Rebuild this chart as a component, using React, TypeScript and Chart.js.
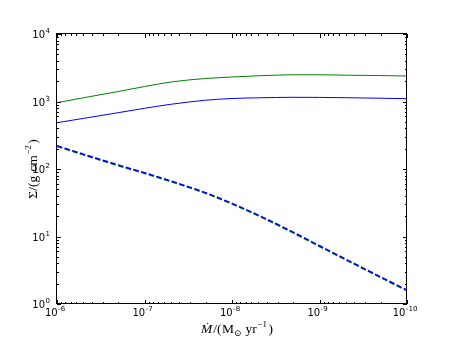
import React, { useEffect, useRef } from "react";
import { Chart, registerables } from "chart.js";

Chart.register(...registerables);

// Accretion rate (Msun/yr), x axis (log, reversed)
const mdot = [1e-6, 5e-7, 2e-7, 1e-7, 5e-8, 2e-8, 1e-8, 5e-9, 2e-9, 1e-9, 5e-10, 2e-10, 1e-10];
// Surface density (g cm^-2)
const sigmaGreen = [960, 1135, 1406, 1667, 1944, 2193, 2306, 2404, 2488, 2488, 2454, 2420, 2387];
const sigmaBlue = [485, 562, 683, 793, 909, 1045, 1107, 1134, 1154, 1150, 1138, 1119, 1100];
const sigmaGreenDashed = [216, 162, 112, 86, 65, 43.5, 30.3, 20.2, 11.3, 7.1, 4.5, 2.46, 1.57];
const sigmaBlueDashed = [221, 166, 115, 88, 66.5, 44.5, 31, 20.7, 11.6, 7.3, 4.6, 2.52, 1.61];

const xTickExponents = [-6, -7, -8, -9, -10];
const yTickExponents = [0, 1, 2, 3, 4];

const SANS = '"DejaVu Sans", "Bitstream Vera Sans", sans-serif';
const SERIF = '"Liberation Serif", "DejaVu Serif", serif';

type Piece = { t: string; font: string; dy?: number; gap?: number };

function drawPieces(ctx: CanvasRenderingContext2D, pieces: Piece[], cx: number, by: number) {
  let total = 0;
  const widths = pieces.map((p) => {
    ctx.font = p.font;
    const w = ctx.measureText(p.t).width + (p.gap || 0);
    total += w;
    return w;
  });
  let x = cx - total / 2;
  pieces.forEach((p, i) => {
    ctx.font = p.font;
    ctx.fillText(p.t, x, by + (p.dy || 0));
    x += widths[i];
  });
}

function drawPow(ctx: CanvasRenderingContext2D, exp: number, x: number, y: number, align: "center" | "right") {
  ctx.font = `10px ${SANS}`;
  const wb = ctx.measureText("10").width;
  ctx.font = `7px ${SANS}`;
  const es = String(exp);
  const we = ctx.measureText(es).width;
  const total = wb + we + 0.5;
  const x0 = align === "center" ? x - total / 2 : x - total;
  ctx.font = `10px ${SANS}`;
  ctx.fillText("10", x0, y);
  ctx.font = `7px ${SANS}`;
  ctx.fillText(es, x0 + wb + 0.5, y - 5);
}

const mplAxes = {
  id: "mplAxes",
  afterDraw(chart: any) {
    const ctx: CanvasRenderingContext2D = chart.ctx;
    const xs = chart.scales.x;
    const ys = chart.scales.y;
    const { left, right, top, bottom } = chart.chartArea;
    ctx.save();
    ctx.strokeStyle = "#000";
    ctx.lineWidth = 1;
    ctx.beginPath();
    for (let e = -10; e <= -6; e++) {
      for (let k = 1; k <= 9; k++) {
        if (e === -6 && k > 1) break;
        const px = Math.round(xs.getPixelForValue(k * Math.pow(10, e))) + 0.5;
        const len = k === 1 ? 4 : 2;
        ctx.moveTo(px, bottom);
        ctx.lineTo(px, bottom - len);
        ctx.moveTo(px, top);
        ctx.lineTo(px, top + len);
      }
    }
    for (let e = 0; e <= 4; e++) {
      for (let k = 1; k <= 9; k++) {
        if (e === 4 && k > 1) break;
        const py = Math.round(ys.getPixelForValue(k * Math.pow(10, e))) + 0.5;
        const len = k === 1 ? 4 : 2;
        ctx.moveTo(left, py);
        ctx.lineTo(left + len, py);
        ctx.moveTo(right, py);
        ctx.lineTo(right - len, py);
      }
    }
    ctx.stroke();
    ctx.strokeRect(Math.round(left) - 0.5, Math.round(top) - 0.5, Math.round(right - left), Math.round(bottom - top));

    ctx.fillStyle = "#000";
    ctx.textBaseline = "alphabetic";
    ctx.textAlign = "left";
    xTickExponents.forEach((e) => {
      const px = xs.getPixelForValue(Math.pow(10, e));
      drawPow(ctx, e, px - 2, bottom + 12, "center");
    });
    yTickExponents.forEach((e) => {
      const py = ys.getPixelForValue(Math.pow(10, e));
      drawPow(ctx, e, left - 7, py + 4, "right");
    });

    const big = `13.5px ${SERIF}`;
    const small = `9px ${SERIF}`;
    drawPieces(
      ctx,
      [
        { t: "Ṁ", font: `italic ${big}`, gap: 1 },
        { t: "/(", font: big, gap: 0.5 },
        { t: "M", font: big },
        { t: "⊙", font: small, dy: 3, gap: 4 },
        { t: "yr", font: big, gap: 0.5 },
        { t: "−1", font: small, dy: -6, gap: 1.5 },
        { t: ")", font: big },
      ],
      (left + right) / 2 + 5,
      333
    );

    ctx.save();
    ctx.translate(37, (top + bottom) / 2);
    ctx.rotate(-Math.PI / 2);
    drawPieces(
      ctx,
      [
        { t: "Σ/(g", font: big, gap: 4 },
        { t: "cm", font: big, gap: 0.5 },
        { t: "−2", font: small, dy: -6, gap: 1.5 },
        { t: ")", font: big },
      ],
      0,
      0
    );
    ctx.restore();
    ctx.restore();
  },
};

function pts(ys: number[]) {
  return mdot.map((x, i) => ({ x, y: ys[i] }));
}

export default function App() {
  const ref = useRef<HTMLCanvasElement | null>(null);
  useEffect(() => {
    if (!ref.current) return;
    const chart = new Chart(ref.current, {
      type: "line",
      data: {
        datasets: [
          {
            data: pts(sigmaBlueDashed),
            borderColor: "#0000ff",
            borderWidth: 1.5,
            borderDash: [5.5, 2.5],
            pointRadius: 0,
            cubicInterpolationMode: "monotone",
            order: 0,
          },
          {
            data: pts(sigmaGreenDashed),
            borderColor: "#008000",
            borderWidth: 1.5,
            borderDash: [5.5, 2.5],
            pointRadius: 0,
            cubicInterpolationMode: "monotone",
            order: 1,
          },
          {
            data: pts(sigmaBlue),
            borderColor: "#0000ff",
            borderWidth: 1,
            pointRadius: 0,
            cubicInterpolationMode: "monotone",
            order: 2,
          },
          {
            data: pts(sigmaGreen),
            borderColor: "#008000",
            borderWidth: 1,
            pointRadius: 0,
            cubicInterpolationMode: "monotone",
            order: 3,
          },
        ],
      },
      options: {
        animation: false,
        responsive: false,
        layout: { padding: { left: 57, top: 34, right: 45, bottom: 35 } },
        plugins: { legend: { display: false }, tooltip: { enabled: false } },
        scales: {
          x: { type: "logarithmic", reverse: true, min: 1e-10, max: 1e-6, display: false },
          y: { type: "logarithmic", min: 1, max: 1e4, display: false },
        },
      },
      plugins: [mplAxes],
    });
    return () => chart.destroy();
  }, []);
  return (
    <div style={{ position: "fixed", left: 0, top: 0, width: 452, height: 339, background: "#fff" }}>
      <canvas ref={ref} width={452} height={339} style={{ width: 452, height: 339, display: "block" }} />
    </div>
  );
}
